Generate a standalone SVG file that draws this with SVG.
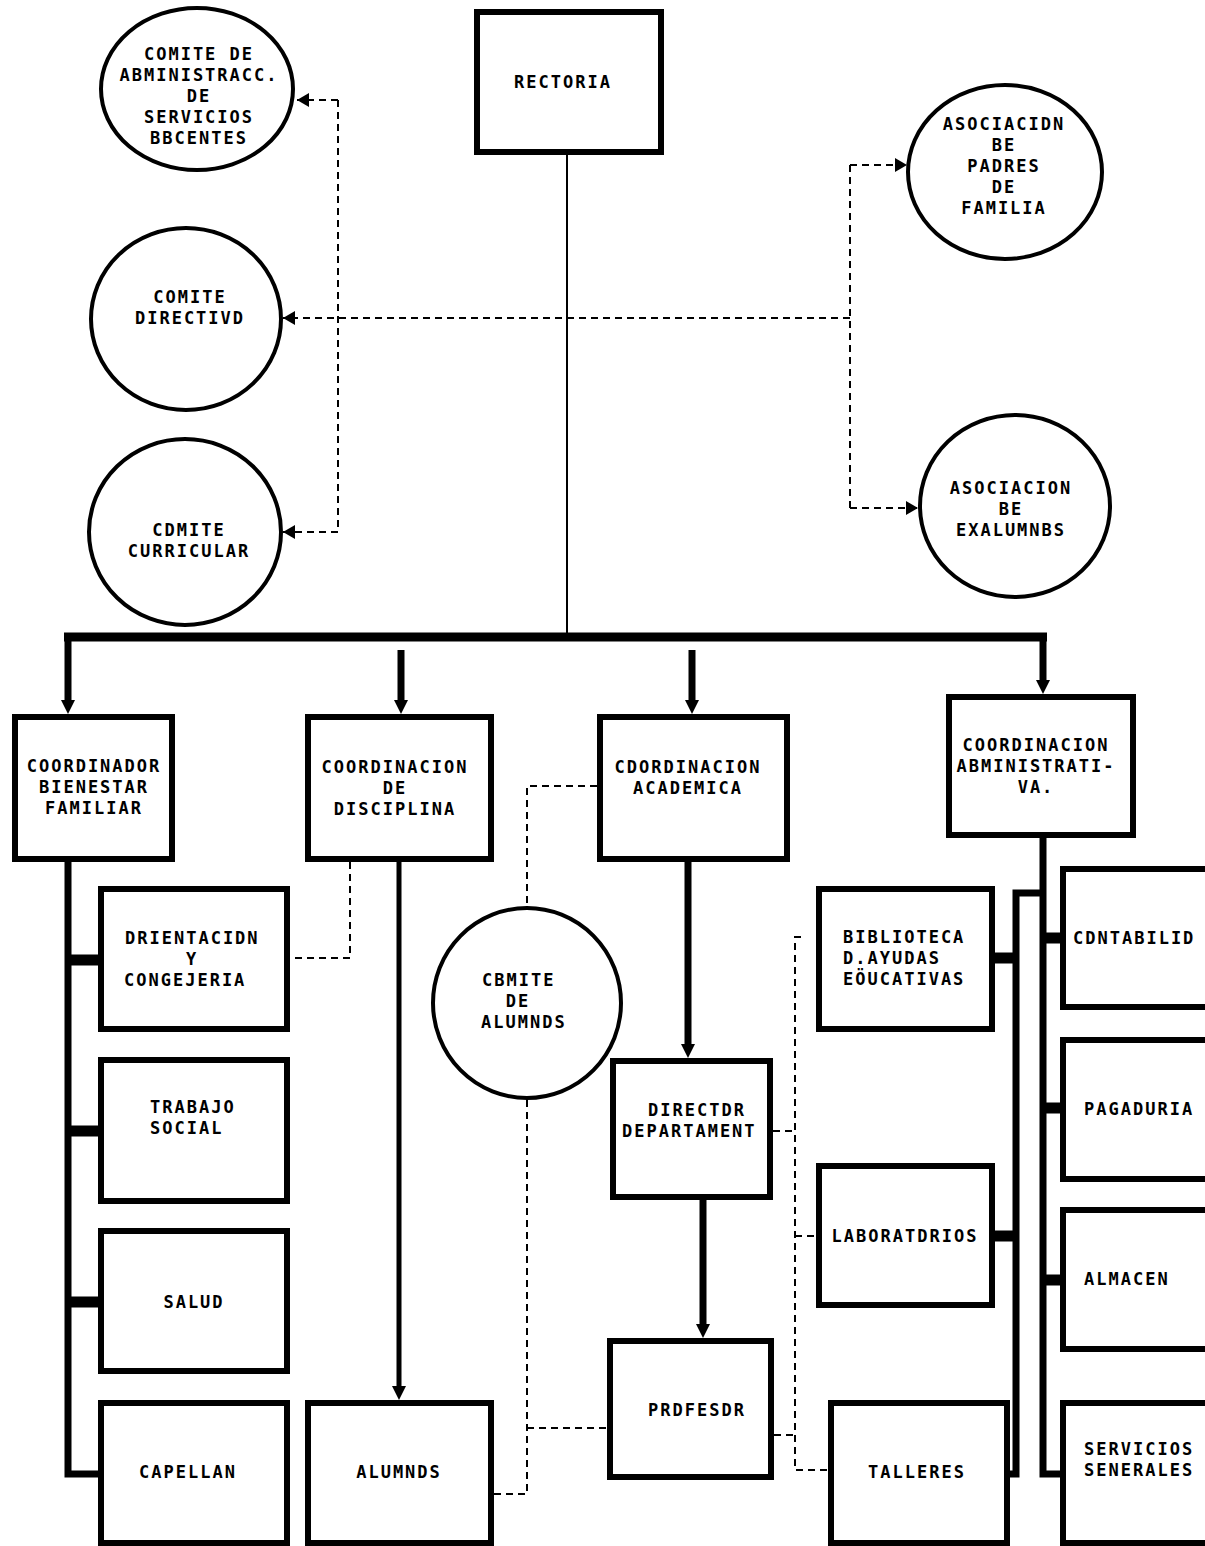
<svg xmlns="http://www.w3.org/2000/svg" width="1205" height="1546" viewBox="0 0 1205 1546">
<style>
.bx{fill:#fff;stroke:#000;stroke-width:6}
.ci{fill:#fff;stroke:#000;stroke-width:4}
.t{font-family:"DejaVu Sans Mono","Liberation Mono",monospace;font-weight:bold;font-size:17px;letter-spacing:2px;fill:#000;text-anchor:middle}
.s{text-anchor:start}
.th{fill:none;stroke:#000;stroke-width:7}
.stub{fill:none;stroke:#000;stroke-width:11}
.dash{fill:none;stroke:#000;stroke-width:2;stroke-dasharray:7 5}
.thin{fill:none;stroke:#000;stroke-width:2}
</style>
<defs>
<marker id="ah" markerUnits="userSpaceOnUse" markerWidth="12" markerHeight="14" refX="12" refY="7" orient="auto"><path d="M0,0 L12,7 L0,14 z" fill="#000"/></marker>
<marker id="dn" markerUnits="userSpaceOnUse" markerWidth="14" markerHeight="14" refX="0" refY="7" orient="auto"><path d="M0,0 L14,7 L0,14 z" fill="#000"/></marker>
</defs>
<rect width="1205" height="1546" fill="#fff"/>
<g id="connectors">
<path class="thin" d="M567 155 V634"/>
<path class="th" d="M64 637 H1047" style="stroke-width:9"/>
<path class="th" d="M68 637 V700" marker-end="url(#dn)"/>
<path class="th" d="M1043 637 V680" marker-end="url(#dn)"/>
<path class="th" d="M401 650 V700" marker-end="url(#dn)"/>
<path class="th" d="M692 650 V700" marker-end="url(#dn)"/>
<path class="th" d="M68 862 V1474 H100"/>
<path class="stub" d="M70 960 H100 M70 1131 H100 M70 1302 H100"/>
<path class="th" d="M399 862 V1386" style="stroke-width:5" marker-end="url(#dn)"/>
<path class="th" d="M688 862 V1044" marker-end="url(#dn)"/>
<path class="th" d="M703 1200 V1324" marker-end="url(#dn)"/>
<path class="th" d="M1043 838 V1474 H1062"/>
<path class="stub" d="M1045 938 H1062 M1045 1108 H1062 M1045 1280 H1062"/>
<path class="th" d="M1043 893 H1016 V1474 H1008"/>
<path class="stub" d="M993 958 H1016 M993 1236 H1016"/>
<path class="dash" d="M338 100 H297" marker-end="url(#ah)"/>
<path class="dash" d="M338 100 V532"/>
<path class="dash" d="M338 532 H283" marker-end="url(#ah)"/>
<path class="dash" d="M850 318 H283" marker-end="url(#ah)"/>
<path class="dash" d="M850 165 V508"/>
<path class="dash" d="M850 165 H907" marker-end="url(#ah)"/>
<path class="dash" d="M850 508 H918" marker-end="url(#ah)"/>
<path class="dash" d="M350 862 V958 H290"/>
<path class="dash" d="M597 786 H527 V907"/>
<path class="dash" d="M527 1100 V1494 H494"/>
<path class="dash" d="M527 1428 H607"/>
<path class="dash" d="M801 937 H795 V1470 H828"/>
<path class="dash" d="M773 1131 H795 M774 1435 H795 M795 1236 H816"/>
</g>
<g id="rectoria"><rect class="bx" x="477" y="12" width="184" height="140"/><text class="t" x="563" y="88">RECTORIA</text></g>
<g id="comite-admin"><ellipse class="ci" cx="197" cy="89" rx="96" ry="81"/><text class="t" x="199" y="60">COMITE DE</text><text class="t" x="199" y="81">ABMINISTRACC.</text><text class="t" x="199" y="102">DE</text><text class="t" x="199" y="123">SERVICIOS</text><text class="t" x="199" y="144">BBCENTES</text></g>
<g id="comite-directivo"><ellipse class="ci" cx="186" cy="319" rx="95" ry="91"/><text class="t" x="190" y="303">COMITE</text><text class="t" x="190" y="324">DIRECTIVD</text></g>
<g id="comite-curricular"><ellipse class="ci" cx="185" cy="532" rx="96" ry="93"/><text class="t" x="189" y="536">CDMITE</text><text class="t" x="189" y="557">CURRICULAR</text></g>
<g id="asoc-padres"><ellipse class="ci" cx="1005" cy="172" rx="97" ry="87"/><text class="t" x="1004" y="130">ASOCIACIDN</text><text class="t" x="1004" y="151">BE</text><text class="t" x="1004" y="172">PADRES</text><text class="t" x="1004" y="193">DE</text><text class="t" x="1004" y="214">FAMILIA</text></g>
<g id="asoc-exalumnos"><ellipse class="ci" cx="1015" cy="506" rx="95" ry="91"/><text class="t" x="1011" y="494">ASOCIACION</text><text class="t" x="1011" y="515">BE</text><text class="t" x="1011" y="536">EXALUMNBS</text></g>
<g id="coord-bienestar"><rect class="bx" x="15" y="717" width="157" height="142"/><text class="t" x="94" y="772">COORDINADOR</text><text class="t" x="94" y="793">BIENESTAR</text><text class="t" x="94" y="814">FAMILIAR</text></g>
<g id="coord-disciplina"><rect class="bx" x="308" y="717" width="183" height="142"/><text class="t" x="395" y="773">COORDINACION</text><text class="t" x="395" y="794">DE</text><text class="t" x="395" y="815">DISCIPLINA</text></g>
<g id="coord-academica"><rect class="bx" x="600" y="717" width="187" height="142"/><text class="t" x="688" y="773">CDORDINACION</text><text class="t" x="688" y="794">ACADEMICA</text></g>
<g id="coord-admin"><rect class="bx" x="949" y="697" width="184" height="138"/><text class="t" x="1036" y="751">COORDINACION</text><text class="t" x="1036" y="772">ABMINISTRATI-</text><text class="t" x="1036" y="793">VA.</text></g>
<g id="orientacion"><rect class="bx" x="101" y="889" width="186" height="140"/><text class="t s" x="125" y="944">DRIENTACIDN</text><text class="t" x="192" y="965">Y</text><text class="t s" x="124" y="986">CONGEJERIA</text></g>
<g id="trabajo-social"><rect class="bx" x="101" y="1060" width="186" height="141"/><text class="t s" x="150" y="1113">TRABAJO</text><text class="t s" x="150" y="1134">SOCIAL</text></g>
<g id="salud"><rect class="bx" x="101" y="1231" width="186" height="140"/><text class="t" x="194" y="1308">SALUD</text></g>
<g id="capellan"><rect class="bx" x="101" y="1403" width="186" height="140"/><text class="t" x="188" y="1478">CAPELLAN</text></g>
<g id="alumnos"><rect class="bx" x="308" y="1403" width="183" height="140"/><text class="t" x="399" y="1478">ALUMNDS</text></g>
<g id="comite-alumnos"><ellipse class="ci" cx="527" cy="1003" rx="94" ry="95"/><text class="t s" x="482" y="986">CBMITE</text><text class="t" x="518" y="1007">DE</text><text class="t s" x="481" y="1028">ALUMNDS</text></g>
<g id="director-departamento"><rect class="bx" x="613" y="1061" width="157" height="136"/><text class="t s" x="648" y="1116">DIRECTDR</text><text class="t s" x="622" y="1137">DEPARTAMENT</text></g>
<g id="profesor"><rect class="bx" x="610" y="1341" width="161" height="136"/><text class="t" x="697" y="1416">PRDFESDR</text></g>
<g id="biblioteca"><rect class="bx" x="819" y="889" width="173" height="140"/><text class="t s" x="843" y="943">BIBLIOTECA</text><text class="t s" x="843" y="964">D.AYUDAS</text><text class="t s" x="843" y="985">EÖUCATIVAS</text></g>
<g id="laboratorios"><rect class="bx" x="819" y="1166" width="173" height="139"/><text class="t" x="905" y="1242">LABORATDRIOS</text></g>
<g id="talleres"><rect class="bx" x="831" y="1403" width="176" height="140"/><text class="t" x="917" y="1478">TALLERES</text></g>
<g id="contabilidad"><rect class="bx" x="1063" y="869" width="160" height="138"/><text class="t s" x="1073" y="944">CDNTABILID</text></g>
<g id="pagaduria"><rect class="bx" x="1063" y="1040" width="160" height="139"/><text class="t s" x="1084" y="1115">PAGADURIA</text></g>
<g id="almacen"><rect class="bx" x="1063" y="1210" width="160" height="139"/><text class="t s" x="1084" y="1285">ALMACEN</text></g>
<g id="servicios-generales"><rect class="bx" x="1063" y="1403" width="160" height="140"/><text class="t s" x="1084" y="1455">SERVICIOS</text><text class="t s" x="1084" y="1476">SENERALES</text></g>
</svg>
